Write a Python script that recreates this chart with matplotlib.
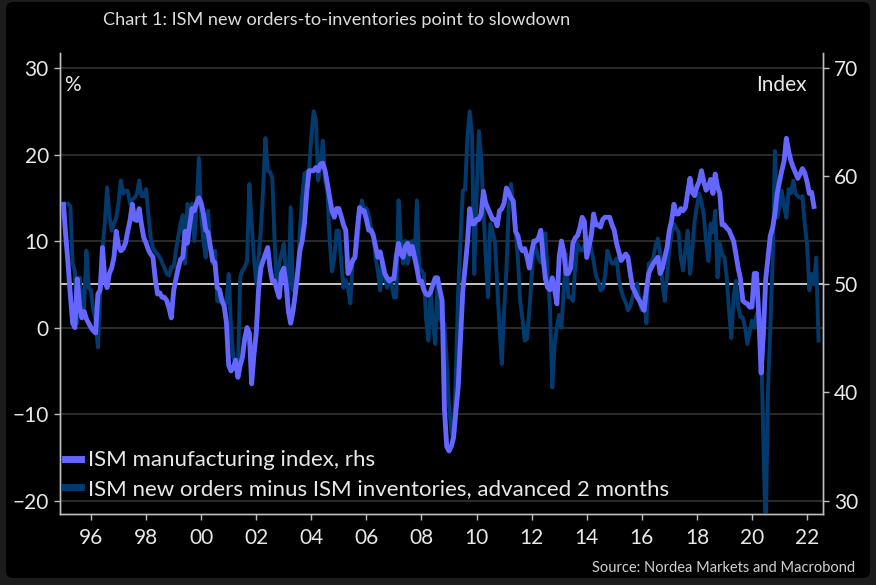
import numpy as np
import matplotlib
matplotlib.use("Agg")
import matplotlib.pyplot as plt
from matplotlib.patches import FancyBboxPatch
from matplotlib.lines import Line2D

# ---------------- data ----------------
title = "Chart 1: ISM new orders-to-inventories point to slowdown"
source = "Source: Nordea Markets and Macrobond"
label_ism = "ISM manufacturing index, rhs"
label_diff = "ISM new orders minus ISM inventories, advanced 2 months"

ism_start_year = 1995
ism_start_month = 1
ism = [
    57.4, 54.5, 51.9, 49.0, 46.4, 46.0, 50.5, 48.0, 46.9, 47.5, 46.8, 46.4,  # 1995
    46.0, 45.7, 45.5, 49.1, 49.5, 53.4, 50.5, 49.7, 51.0, 51.5, 52.5, 54.9,  # 1996
    53.5, 53.1, 53.3, 53.8, 54.9, 55.9, 57.4, 56.0, 55.9, 57.0, 55.5, 54.3,  # 1997
    53.8, 53.2, 52.8, 52.5, 50.5, 49.1, 49.2, 48.8, 48.8, 48.5, 47.8, 46.9,  # 1998
    49.4, 50.5, 51.5, 52.3, 52.5, 54.9, 53.8, 55.5, 57.0, 56.8, 57.5, 58.0,  # 1999
    57.5, 56.5, 55.0, 54.8, 53.5, 52.2, 52.0, 49.7, 49.5, 48.5, 48.0, 46.5,  # 2000
    42.5, 42.0, 42.3, 43.0, 41.4, 42.5, 43.3, 45.0, 46.0, 45.5, 40.8, 43.5,  # 2001
    45.5, 49.5, 51.5, 52.2, 52.8, 53.4, 51.5, 50.3, 50.3, 49.5, 48.8, 51.0,  # 2002
    51.5, 50.0, 47.5, 46.4, 47.5, 49.1, 51.0, 53.1, 54.0, 55.6, 58.5, 60.5,  # 2003
    60.5, 60.5, 60.8, 60.5, 61.1, 61.2, 60.5, 59.3, 58.0, 56.8, 56.2, 57.0,  # 2004
    57.0, 56.3, 55.5, 55.0, 51.0, 51.5, 52.2, 52.5, 55.0, 57.1, 56.8, 56.8,  # 2005
    56.0, 55.0, 55.0, 54.5, 53.5, 52.5, 53.0, 52.0, 51.0, 50.6, 50.3, 50.5,  # 2006
    50.5, 52.5, 53.8, 52.8, 52.5, 53.5, 53.8, 52.8, 53.5, 52.5, 51.5, 50.3,  # 2007
    50.3, 49.5, 49.1, 49.0, 49.3, 50.0, 50.6, 50.6, 49.5, 48.5, 38.5, 35.0,  # 2008
    34.6, 35.0, 35.9, 38.3, 40.5, 45.0, 49.4, 51.5, 53.8, 57.0, 55.6, 55.6,  # 2009
    56.0, 56.0, 56.5, 58.6, 57.5, 57.0, 56.5, 56.0, 56.0, 55.4, 56.8, 57.0,  # 2010
    57.5, 58.9, 58.5, 58.0, 57.7, 54.9, 54.5, 53.5, 53.1, 53.3, 52.5, 51.5,  # 2011
    53.0, 54.0, 54.0, 54.3, 55.0, 52.5, 50.5, 49.7, 49.5, 50.6, 49.5, 48.2,  # 2012
    52.5, 54.0, 53.0, 51.0, 51.0, 51.5, 53.8, 54.3, 54.5, 55.2, 56.2, 55.8,  # 2013
    52.5, 53.5, 54.5, 56.5, 55.5, 55.5, 55.3, 56.0, 56.2, 56.2, 56.2, 55.5,  # 2014
    55.0, 53.8, 53.0, 52.2, 52.5, 52.8, 52.5, 51.0, 49.7, 49.3, 48.8, 48.5,  # 2015
    48.0, 47.6, 49.5, 51.0, 51.5, 51.9, 52.2, 52.5, 51.0, 51.5, 52.5, 53.4,  # 2016
    55.0, 55.9, 57.4, 56.5, 56.5, 57.0, 56.8, 57.1, 58.5, 59.8, 58.5, 58.2,  # 2017
    59.0, 59.5, 60.5, 59.5, 58.7, 59.0, 59.7, 58.4, 60.2, 59.0, 58.4, 55.5,  # 2018
    55.5, 55.2, 55.0, 54.5, 54.0, 52.8, 51.5, 50.5, 48.5, 48.3, 48.2, 47.9,  # 2019
    47.9, 51.0, 51.0, 47.0, 41.8, 45.5, 50.5, 52.5, 54.5, 55.2, 56.5, 58.4,  # 2020
    59.5, 60.5, 61.4, 63.5, 62.3, 61.4, 60.8, 60.3, 59.8, 60.2, 60.7, 60.3,  # 2021
    59.5, 58.4, 58.5, 57.2,                                                  # 2022
]

diff_start_year = 1995
diff_start_month = 3
diff = [
    14.3, 14.0, 7.4, 6.5, 0.5, 5.8, 3.0, 2.3, 8.9, 4.6,                      # 1995 (Mar-Dec)
    4.3, 2.0, 0.8, -2.3, 4.3, 9.2, 12.0, 16.2, 13.0, 11.2, 12.0, 12.7,       # 1996
    14.5, 17.0, 15.5, 15.8, 15.8, 14.3, 14.8, 15.0, 15.5, 17.0, 15.2, 15.2,  # 1997
    16.0, 13.0, 10.4, 9.2, 8.8, 8.5, 8.1, 7.5, 6.9, 6.2, 6.0, 7.0,           # 1998
    7.0, 8.9, 10.5, 12.0, 13.0, 7.4, 14.3, 13.5, 14.3, 10.0, 14.0, 19.6,     # 1999
    13.0, 10.0, 8.1, 13.5, 9.0, 7.4, 8.9, 3.1, 3.0, 3.5, 2.8, 2.8,           # 2000
    6.2, 0.0, -3.5, -4.0, -5.0, 5.8, 6.6, 7.0, 7.7, 16.6, 12.0, 8.0,         # 2001
    5.1, 8.0, 11.2, 16.0, 21.9, 18.1, 18.0, 17.3, 10.0, 4.6, 7.4, 8.5,       # 2002
    9.7, 6.0, 3.1, 13.9, 4.3, 5.0, 5.4, 11.2, 15.0, 17.8, 18.0, 18.1,        # 2003
    22.0, 25.0, 24.0, 17.0, 19.0, 21.6, 17.0, 15.8, 10.0, 6.5, 8.0, 11.2,    # 2004
    11.2, 7.7, 4.6, 5.5, 4.5, 2.8, 7.7, 8.0, 9.5, 12.5, 14.7, 13.5,          # 2005
    13.8, 13.0, 11.5, 10.9, 8.0, 6.5, 4.3, 7.7, 6.0, 4.6, 5.5, 5.0,          # 2006
    3.5, 3.5, 14.7, 10.0, 7.4, 10.0, 7.4, 9.0, 10.0, 8.0, 14.7, 7.0,         # 2007
    6.6, 6.2, 1.0, -1.5, 4.3, 0.5, -1.9, 5.4, 1.0, 0.5, 0.5, -4.0,           # 2008
    -9.0, -12.0, -13.0, -5.0, 4.3, 10.0, 15.8, 16.0, 21.9, 25.0, 22.4, 6.2,  # 2009
    15.0, 22.7, 19.6, 13.9, 8.0, 3.5, 12.0, 11.0, 10.0, 5.0, 0.0, -4.2,      # 2010
    2.0, 6.6, 13.9, 16.6, 14.0, 11.2, 8.0, 3.1, 1.0, -1.5, -1.3, 2.0,        # 2011
    5.8, 10.0, 9.0, 8.0, 7.5, 9.0, 10.9, 6.0, 2.3, -6.9, -2.0, 0.0,          # 2012
    1.5, 0.0, 4.5, 8.5, 3.5, 3.5, 3.1, 7.0, 9.7, 9.0, 8.9, 9.5,              # 2013
    8.0, 10.5, 9.0, 7.7, 6.0, 5.4, 4.3, 4.5, 6.0, 8.9, 8.0, 7.4,             # 2014
    7.4, 8.0, 5.5, 4.3, 3.5, 2.9, 2.0, 2.5, 3.5, 4.5, 5.1, 3.0,              # 2015
    2.0, 3.5, 0.5, 7.4, 7.5, 8.0, 9.5, 10.3, 8.5, 5.1, 3.1, 6.0,             # 2016
    9.0, 11.0, 12.0, 11.5, 11.0, 8.0, 6.6, 9.0, 11.2, 6.2, 9.0, 12.3,        # 2017
    14.0, 15.5, 14.5, 13.1, 10.0, 7.7, 12.0, 11.0, 13.5, 5.8, 9.7, 8.5,      # 2018
    8.1, 5.8, 2.0, -1.2, 3.5, 5.4, 2.5, 1.2, 1.2, 0.0, -1.9, -0.5,           # 2019
    0.8, 0.0, 1.5, 2.0, -1.9, -13.4, -24.0, -7.0, 0.0, 7.7, 20.4, 12.7,      # 2020
    14.0, 15.8, 14.0, 12.7, 16.0, 15.5, 17.0, 15.5, 15.2, 15.0, 15.2, 12.0,  # 2021
    9.7, 4.3, 6.2, 5.0, 8.1, -1.5,                                           # 2022
]

year_ticks = list(range(1996, 2023, 2))
year_labels = [f"{y % 100:02d}" for y in year_ticks]
left_ticks = [-20, -10, 0, 10, 20, 30]
right_ticks = [30, 40, 50, 60, 70]
neutral_left = 5

# ---------------- style ----------------
FONT = ["Lato", "DejaVu Sans"]
plt.rcParams["font.family"] = FONT
C_ISM = "#6565ff"
C_DIFF = "#033a6e"
C_TEXT = "#e8e8e8"
C_SPINE = "#bdbdbd"
C_GRID = "#373737"

W, H = 876, 585
fig = plt.figure(figsize=(W / 100, H / 100), dpi=100)
fig.patch.set_facecolor("#1c1c1c")
bg = FancyBboxPatch((6 / 100, 7 / 100), 864 / 100, 576 / 100,
                    boxstyle="round,pad=0,rounding_size=0.07",
                    transform=fig.dpi_scale_trans, facecolor="black",
                    edgecolor="none", zorder=-10)
fig.add_artist(bg)

ax = fig.add_axes([60 / W, 1 - 514 / H, 763 / W, 461 / H])
ax.set_zorder(1)
ax.patch.set_visible(False)
ax2 = ax.twinx()
ax2.set_zorder(2)
ax2.patch.set_visible(False)

x_ism = ism_start_year + (ism_start_month - 1) / 12 + np.arange(len(ism)) / 12
x_diff = diff_start_year + (diff_start_month - 1) / 12 + np.arange(len(diff)) / 12

ax.plot(x_diff, diff, color=C_DIFF, lw=2.8, solid_joinstyle="round", zorder=3)
ax.axhline(neutral_left, color="#e6e6e6", lw=1.2, zorder=2)
ax2.plot(x_ism, ism, color=C_ISM, lw=3.5, solid_joinstyle="round", zorder=3)

ylo, yhi = -21.54, 31.73
ax.set_ylim(ylo, yhi)
ax2.set_ylim(30 + 0.8 * (ylo + 20), 30 + 0.8 * (yhi + 20))
ax.set_xlim(1994.874, 2022.58)

ax.set_yticks(left_ticks)
ax2.set_yticks(right_ticks)
ax.set_xticks(year_ticks)
ax.set_xticklabels(year_labels)

ax.grid(axis="y", color=C_GRID, lw=1.1, zorder=1)
ax.set_axisbelow(True)

for a in (ax, ax2):
    for s in a.spines.values():
        s.set_color(C_SPINE)
        s.set_linewidth(1.0)
    a.spines["top"].set_visible(False)
    a.tick_params(colors=C_SPINE, labelcolor=C_TEXT, labelsize=15,
                  length=4, width=1.0, direction="out")
ax.tick_params(axis="y", pad=4)
ax2.tick_params(axis="y", pad=4)
ax.tick_params(axis="x", pad=6)

ax.text(0.006, 0.93, "%", transform=ax.transAxes, color=C_TEXT,
        fontsize=15, ha="left", va="center")
ax.text(0.978, 0.93, "Index", transform=ax.transAxes, color=C_TEXT,
        fontsize=15, ha="right", va="center")

handles = [Line2D([], [], color=C_ISM, lw=5),
           Line2D([], [], color=C_DIFF, lw=5)]
leg = ax2.legend(handles, [label_ism, label_diff], loc="lower left",
                 bbox_to_anchor=(0.006, 0.033), frameon=False, fontsize=16,
                 handlelength=0.75, handletextpad=0.3, labelspacing=0.38,
                 borderpad=0, borderaxespad=0)
for t in leg.get_texts():
    t.set_color(C_TEXT)

fig.text(103 / W, 1 - 20 / H, title, color="#dddddd", fontsize=13.1,
         ha="left", va="center")
fig.text(855 / W, 1 - 568 / H, source, color="#d0d0d0", fontsize=10.5,
         ha="right", va="center")

fig.savefig("out.png", dpi=100, facecolor=fig.get_facecolor())
